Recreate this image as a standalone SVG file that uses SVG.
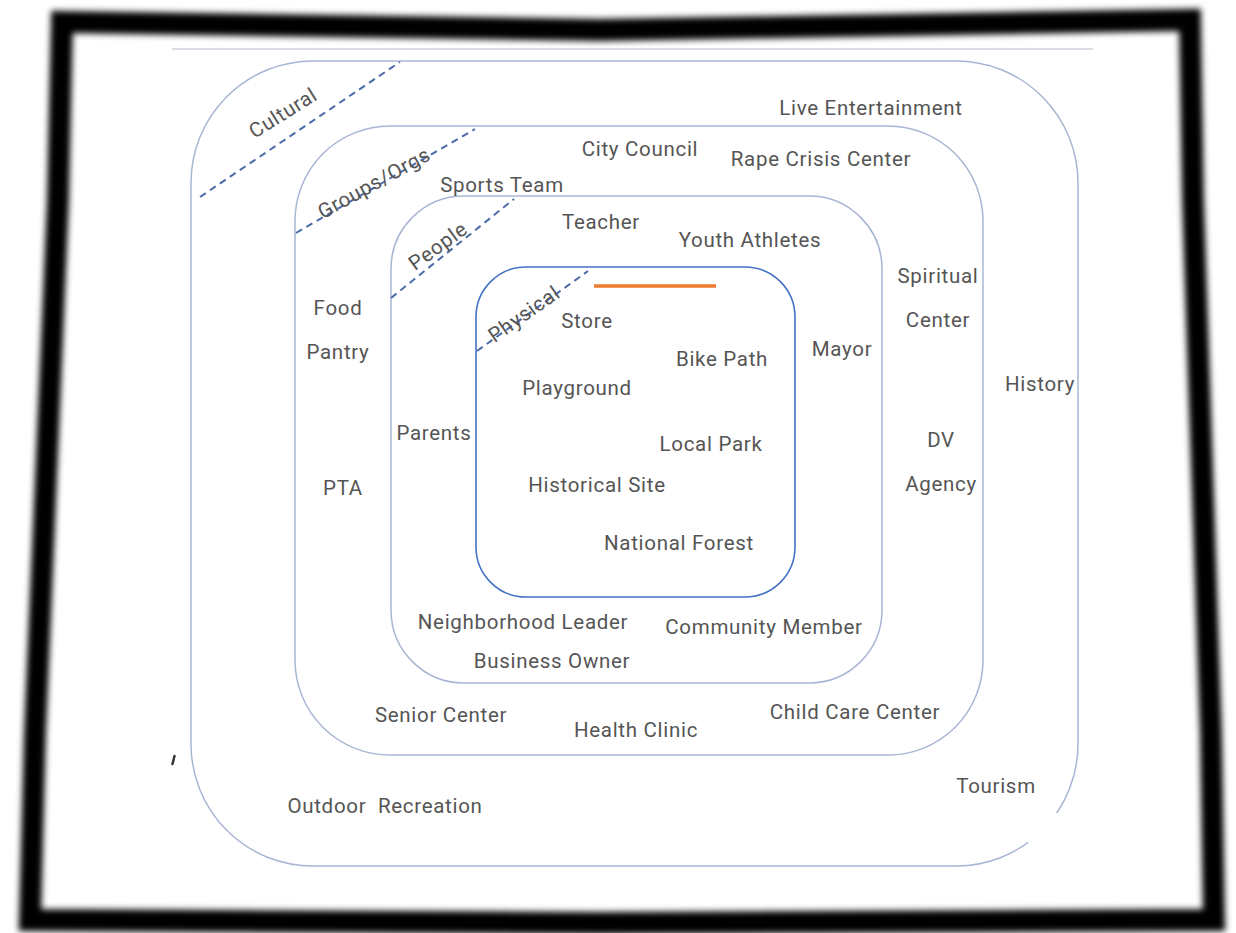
<svg xmlns="http://www.w3.org/2000/svg" width="1236" height="933" viewBox="0 0 1236 933">
<defs>
<filter id="blur" x="-5%" y="-5%" width="110%" height="110%"><feGaussianBlur stdDeviation="3.2"/></filter>
<style>
.ring{fill:none;stroke:#a9b6d3;stroke-width:1.5}
.core{fill:none;stroke:#4472c4;stroke-width:1.6}
.dash{fill:none;stroke:#4a6aa8;stroke-width:2;stroke-dasharray:7 5}
.t{font-family:Roboto,"Liberation Sans",sans-serif;font-size:20.5px;letter-spacing:0.7px;fill:#555;text-anchor:middle}
.r{dominant-baseline:central}
</style>
</defs>
<rect width="1236" height="933" fill="#fff"/>
<g id="frame">
<path d="M62,22 L600,30 L1190,20 L1193,200 L1211,733 L1214,920 L600,923 L30,920 L35,733 L58,200 Z" fill="none" stroke="#000" stroke-width="22" stroke-linejoin="miter" filter="url(#blur)"/>
<line x1="172" y1="49" x2="1093" y2="49" stroke="#cdd1d8" stroke-width="1.5"/>
<line x1="174.5" y1="756" x2="172.5" y2="764" stroke="#333" stroke-width="2.5" stroke-linecap="round"/>
</g>
<g id="ring-cultural">
<rect class="ring" x="191" y="61" width="887" height="805" rx="122" ry="122"/>
<rect x="1028" y="813" width="60" height="60" fill="#fff"/>
</g>
<g id="ring-groups"><rect class="ring" x="295" y="126" width="688" height="629" rx="95" ry="95"/></g>
<g id="ring-people"><rect class="ring" x="391" y="196" width="491" height="487" rx="73" ry="73"/></g>
<g id="ring-physical">
<rect class="core" x="476" y="267" width="319" height="330" rx="50" ry="50"/>
<line x1="594" y1="286" x2="716" y2="286" stroke="#ed7d31" stroke-width="3.5"/>
</g>
<g id="connectors">
<line class="dash" x1="200" y1="197" x2="400" y2="62"/>
<line class="dash" x1="296" y1="233" x2="475" y2="129"/>
<line class="dash" x1="391" y1="298" x2="514" y2="199"/>
<line class="dash" x1="477" y1="351" x2="588" y2="271"/>
</g>
<g id="ring-labels">
<text class="t r" transform="translate(283,113) rotate(-32)">Cultural</text>
<text class="t r" transform="translate(374,183) rotate(-29)">Groups/Orgs</text>
<text class="t r" transform="translate(438,246) rotate(-36)">People</text>
<text class="t r" transform="translate(524,314) rotate(-35)">Physical</text>
</g>
<g id="items">
<text class="t" x="871" y="115">Live Entertainment</text>
<text class="t" x="640" y="156">City Council</text>
<text class="t" x="821" y="166">Rape Crisis Center</text>
<text class="t" x="502" y="192">Sports Team</text>
<text class="t" x="601" y="229">Teacher</text>
<text class="t" x="750" y="247">Youth Athletes</text>
<text class="t" x="938" y="283">Spiritual</text>
<text class="t" x="938" y="327">Center</text>
<text class="t" x="338" y="315">Food</text>
<text class="t" x="338" y="359">Pantry</text>
<text class="t" x="587" y="328">Store</text>
<text class="t" x="722" y="366">Bike Path</text>
<text class="t" x="842" y="356">Mayor</text>
<text class="t" x="577" y="395">Playground</text>
<text class="t" x="1040" y="391">History</text>
<text class="t" x="434" y="440">Parents</text>
<text class="t" x="711" y="451">Local Park</text>
<text class="t" x="941" y="447">DV</text>
<text class="t" x="941" y="491">Agency</text>
<text class="t" x="343" y="495">PTA</text>
<text class="t" x="597" y="492">Historical Site</text>
<text class="t" x="679" y="550">National Forest</text>
<text class="t" x="523" y="629">Neighborhood Leader</text>
<text class="t" x="764" y="634">Community Member</text>
<text class="t" x="552" y="668">Business Owner</text>
<text class="t" x="441" y="722">Senior Center</text>
<text class="t" x="636" y="737">Health Clinic</text>
<text class="t" x="855" y="719">Child Care Center</text>
<text class="t" x="996" y="793">Tourism</text>
<text class="t" x="385" y="813" xml:space="preserve">Outdoor  Recreation</text>
</g>
</svg>
